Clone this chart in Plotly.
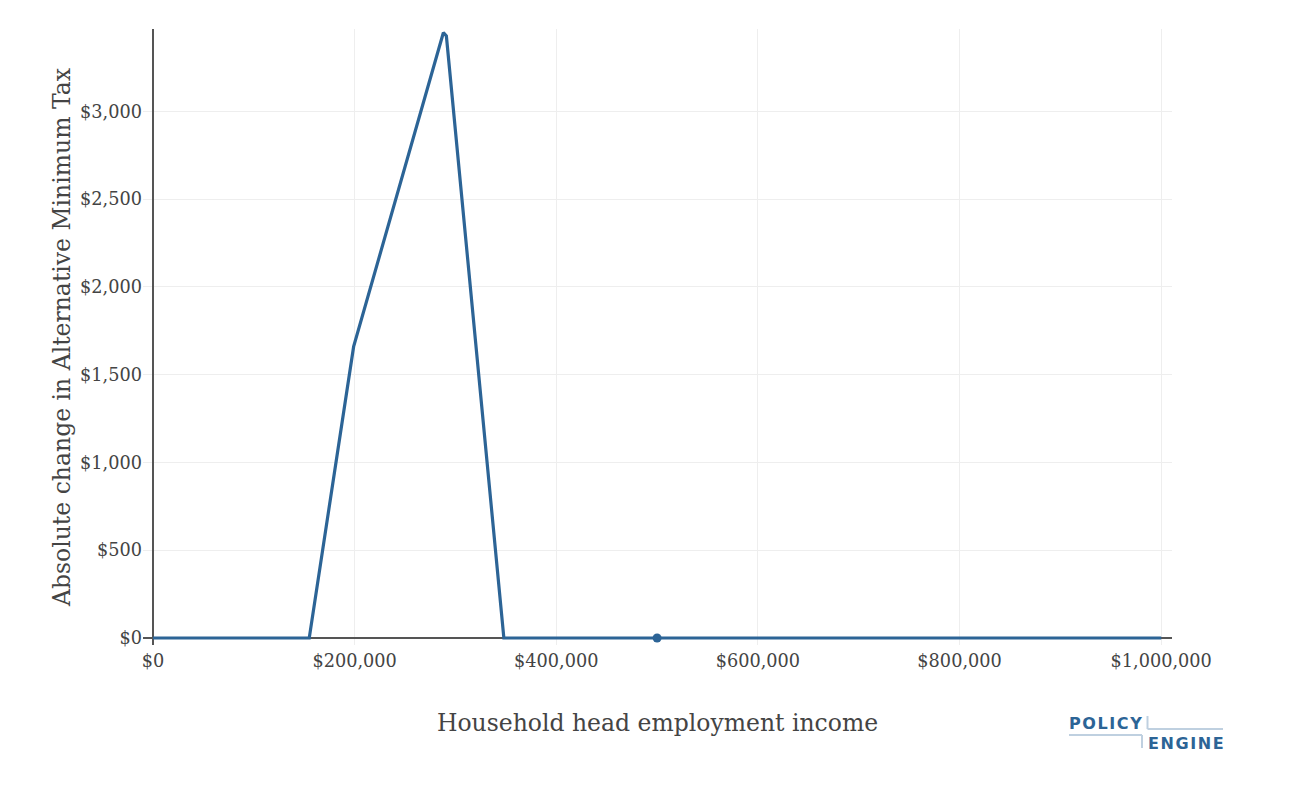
import plotly.graph_objects as go

# Data
income = [0, 155000, 199000, 288000, 291000, 348000, 1000000]
amt_change = [0, 0, 1660, 3449, 3430, 0, 0]
current_income = [500000]
current_change = [0]

x_tickvals = [0, 200000, 400000, 600000, 800000, 1000000]
x_ticktext = ["$0", "$200,000", "$400,000", "$600,000", "$800,000", "$1,000,000"]
y_tickvals = [0, 500, 1000, 1500, 2000, 2500, 3000]
y_ticktext = ["$0", "$500", "$1,000", "$1,500", "$2,000", "$2,500", "$3,000"]

BLUE = "#2C6496"
FONT = "DejaVu Serif"

fig = go.Figure()
fig.add_trace(go.Scatter(x=income, y=amt_change, mode="lines",
                         line=dict(color=BLUE, width=3.2), showlegend=False))
fig.add_trace(go.Scatter(x=current_income, y=current_change, mode="markers",
                         marker=dict(color=BLUE, size=9), showlegend=False))

OFF = 8  # browser body margin
W, H = 1300, 778
L, R, T, B = 135, 136, 21, 141
pw, ph = W - L - R, H - T - B


def px(xp):
    # page pixel -> paper x
    return (xp - OFF - L) / pw


def py(yp):
    # page pixel -> paper y
    return (H - B - (yp - OFF)) / ph


fig.update_layout(
    width=W, height=H,
    margin=dict(l=L, r=R, t=T, b=B),
    plot_bgcolor="white", paper_bgcolor="white",
    font=dict(family=FONT, size=18, color="#444"),
    xaxis=dict(
        range=[-9900, 1010700],
        tickvals=x_tickvals, ticktext=x_ticktext,
        showgrid=True, gridcolor="#eeeeee", gridwidth=1,
        zeroline=True, zerolinecolor="#555", zerolinewidth=1.5,
        showline=False, ticks="", ticklabelstandoff=3,
        title=dict(text="Household head employment income", font=dict(size=23.5, color="#444"), standoff=44),
        tickfont=dict(size=17.7, color="#444"),
    ),
    yaxis=dict(
        range=[-40, 3470],
        tickvals=y_tickvals, ticktext=y_ticktext,
        showgrid=True, gridcolor="#eeeeee", gridwidth=1,
        zeroline=True, zerolinecolor="#555", zerolinewidth=1.5,
        showline=False, ticks="",
        title=dict(text="Absolute change in Alternative Minimum Tax", font=dict(size=23.5, color="#444"), standoff=2),
        tickfont=dict(size=17.7, color="#444"),
    ),
)

# PolicyEngine logo (text + rules), positioned in paper coordinates
LOGO_BLUE = "#2C6496"
LOGO_LINE = "#BFD0E0"
fig.add_annotation(text="<b>P O L I C Y</b>".replace(" ", "\u200a"), xref="paper", yref="paper",
                   x=px(1067), y=py(723), xanchor="left", yanchor="middle", showarrow=False,
                   font=dict(family="DejaVu Sans", size=16, color=LOGO_BLUE))
fig.add_annotation(text="<b>E N G I N E</b>".replace(" ", "\u200a"), xref="paper", yref="paper",
                   x=px(1146), y=py(743), xanchor="left", yanchor="middle", showarrow=False,
                   font=dict(family="DejaVu Sans", size=16, color=LOGO_BLUE))
line_style = dict(color=LOGO_LINE, width=2)
fig.add_shape(type="line", xref="paper", yref="paper", x0=px(1147.5), x1=px(1147.5), y0=py(716), y1=py(729), line=line_style)
fig.add_shape(type="line", xref="paper", yref="paper", x0=px(1147.5), x1=px(1223), y0=py(729), y1=py(729), line=line_style)
fig.add_shape(type="line", xref="paper", yref="paper", x0=px(1069), x1=px(1142), y0=py(735), y1=py(735), line=line_style)
fig.add_shape(type="line", xref="paper", yref="paper", x0=px(1142), x1=px(1142), y0=py(735), y1=py(748), line=line_style)

fig.write_html("out.html")
